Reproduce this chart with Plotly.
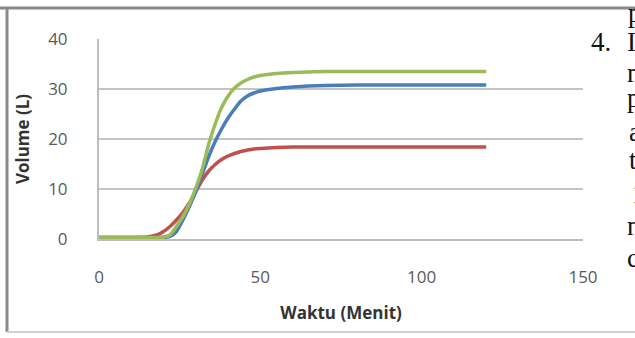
import plotly.graph_objects as go

# ---- data ----
time_min = [0, 5, 10, 15, 18, 20, 22, 24, 26, 28, 30, 32, 34, 36, 38, 40, 42, 44, 46, 48, 50,
            55, 60, 65, 70, 80, 90, 100, 110, 120]
vol_blue = [0.3, 0.3, 0.3, 0.3, 0.3, 0.3, 0.5, 1.5, 3.8, 6.5, 9.5, 13.0, 16.5, 19.5, 22.0, 24.2,
            26.0, 27.6, 28.6, 29.2, 29.6, 30.1, 30.4, 30.6, 30.7, 30.8, 30.8, 30.8, 30.8, 30.8]
vol_red = [0.3, 0.3, 0.3, 0.4, 0.8, 1.5, 2.5, 3.8, 5.3, 7.2, 9.5, 11.8, 13.6, 14.9, 15.9, 16.6,
           17.1, 17.5, 17.8, 18.0, 18.1, 18.3, 18.4, 18.4, 18.4, 18.4, 18.4, 18.4, 18.4, 18.4]
vol_green = [0.3, 0.3, 0.3, 0.3, 0.3, 0.4, 0.8, 2.5, 4.5, 7.0, 10.2, 14.0, 19.0, 23.0, 26.3, 28.6,
             30.2, 31.2, 31.9, 32.4, 32.7, 33.1, 33.3, 33.4, 33.5, 33.5, 33.5, 33.5, 33.5, 33.5]
x_ticks = [0, 50, 100, 150]
y_ticks = [0, 10, 20, 30, 40]
x_title = "Waktu (Menit)"
y_title = "Volume (L)"
# fragments of the surrounding page text (cut off at the right edge)
side_text = ["p", "4.", "I", "m", "p", "a", "t", "1", "n", "c"]
side_pos = [(627, 15), (590, 44), (626, 44), (626, 75), (626, 100), (628, 134), (628, 162),
            (631, 196), (626, 228), (626, 260)]

W, H = 635, 338
L, R, T, B = 99, 583, 39, 239

fig = go.Figure()
for ys, col in [(vol_red, "#C0504D"), (vol_blue, "#4A7EBB"), (vol_green, "#9BBB59")]:
    fig.add_trace(go.Scatter(x=time_min, y=ys, mode="lines",
                             line=dict(color=col, width=3.5, shape="spline", smoothing=0.6),
                             showlegend=False, hoverinfo="skip"))

tickfont = dict(family="Open Sans, Lato, sans-serif", size=17, color="#5a5a5a")
fig.update_xaxes(range=[0, 150], tickvals=x_ticks, showgrid=False, zeroline=False,
                 showline=True, linecolor="#bdbdbd", linewidth=2, ticks="",
                 tickfont=tickfont, ticklabelstandoff=22,
                 title=dict(text="<b>" + x_title + "</b>", standoff=20,
                            font=dict(family="Open Sans, Lato, sans-serif", size=17, color="#333333")))
fig.update_yaxes(range=[0, 40], tickvals=y_ticks, showgrid=True, gridcolor="#c4c4c4", gridwidth=2,
                 zeroline=False, showline=True, linecolor="#bdbdbd", linewidth=2, ticks="",
                 tickfont=tickfont, ticklabelstandoff=26,
                 title=dict(text="<b>" + y_title + "</b>", standoff=14,
                            font=dict(family="Open Sans, Lato, sans-serif", size=17, color="#333333")))

def px(x):
    return (x - L) / (R - L)

def py(y):
    return (B - y) / (B - T)

# outer frame of the embedded chart
frame = dict(type="line", xref="paper", yref="paper", line=dict(color="#8a8a8a", width=3))
fig.add_shape(**frame, x0=px(0), x1=px(636), y0=py(8), y1=py(8))
fig.add_shape(**frame, x0=px(7), x1=px(7), y0=py(8), y1=py(332))
fig.add_shape(type="line", xref="paper", yref="paper", line=dict(color="#d0d0d0", width=2),
              x0=px(7), x1=px(636), y0=py(332), y1=py(332))

for txt, (xx, yy) in zip(side_text, side_pos):
    fig.add_annotation(text=txt, xref="paper", yref="paper", x=px(xx), y=py(yy - 2),
                       showarrow=False, xanchor="left", yanchor="middle", borderpad=0,
                       font=dict(family="Liberation Serif, Times New Roman, serif", size=27, color="#111111"))

fig.update_layout(width=W, height=H, margin=dict(l=L, r=W - R, t=T, b=H - B),
                  paper_bgcolor="white", plot_bgcolor="white")
fig.write_html("out.html", config={"displayModeBar": False},
               post_script="document.body.style.margin='0';document.body.style.overflow='hidden';")
